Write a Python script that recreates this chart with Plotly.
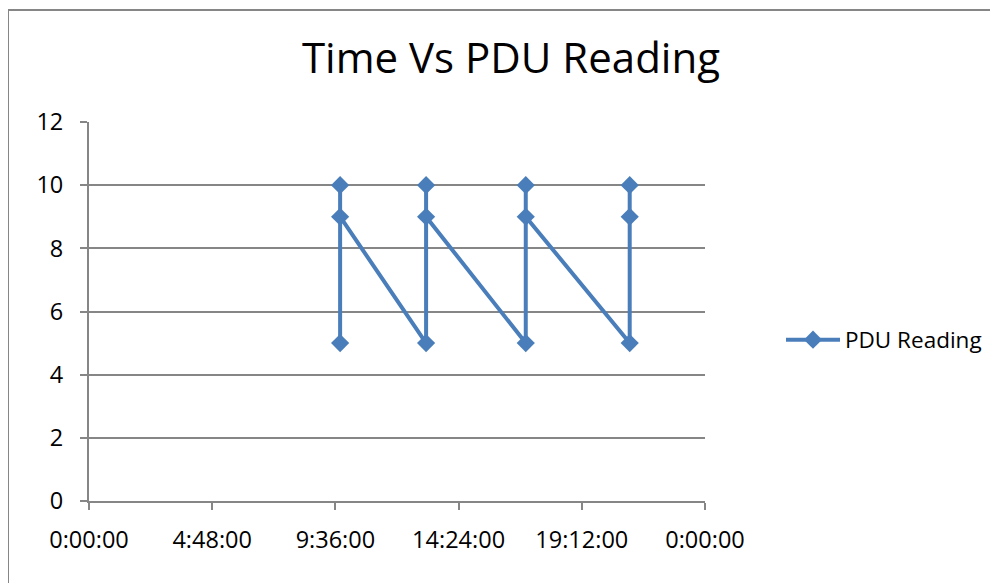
import plotly.graph_objects as go

# Data
times = [
    "2000-01-01 09:47:00", "2000-01-01 09:47:00", "2000-01-01 09:47:00",
    "2000-01-01 13:08:00", "2000-01-01 13:08:00", "2000-01-01 13:08:00",
    "2000-01-01 17:01:00", "2000-01-01 17:01:00", "2000-01-01 17:01:00",
    "2000-01-01 21:04:00", "2000-01-01 21:04:00", "2000-01-01 21:04:00",
]
readings = [5, 10, 9, 5, 10, 9, 5, 10, 9, 5, 10, 9]
series_name = "PDU Reading"
title_text = "Time Vs PDU Reading"

FONT = "Open Sans"
GRID = "#868686"
BLUE = "#4A7EBB"

OFF = 8  # page body margin
W, H = 998, 583
# target plot area in screenshot pixels
X0, X1, Y0, Y1 = 89, 705, 122, 501
L, T = X0 - OFF, Y0 - OFF
R = (W + OFF) - X1
B = (H + OFF) - Y1
pw, ph = X1 - X0, Y1 - Y0

def px_x(x):
    return (x - X0) / pw

def px_y(y):
    return (Y1 - y) / ph

fig = go.Figure()
fig.add_trace(go.Scatter(
    x=times, y=readings, name=series_name, mode="lines+markers",
    line=dict(color=BLUE, width=4),
    marker=dict(symbol="diamond", size=14, color=BLUE),
    showlegend=True,
))

fig.update_layout(
    width=W, height=H,
    margin=dict(l=L, r=R, t=T, b=B),
    paper_bgcolor="white", plot_bgcolor="white",
    font=dict(family=FONT, size=23, color="black"),
    title=dict(text=title_text, x=(511 - OFF) / W, xanchor="center",
               y=1 - (58 - OFF) / H, yanchor="middle", yref="container",
               font=dict(family=FONT, size=42, color="black")),
    xaxis=dict(
        type="date",
        range=["2000-01-01 00:00:00", "2000-01-02 00:00:00"],
        tickmode="linear", tick0="2000-01-01 00:00:00", dtick=17280000,
        tickformat="%-H:%M:%S",
        showgrid=False, zeroline=False,
        showline=True, linecolor=GRID, linewidth=2,
        ticks="outside", ticklen=7, tickcolor=GRID, tickwidth=2,
        ticklabelstandoff=10,
        tickfont=dict(family=FONT, size=23.5, color="black"),
    ),
    yaxis=dict(
        range=[0, 12], tickmode="linear", tick0=0, dtick=2,
        showgrid=True, gridcolor=GRID, gridwidth=1.5, zeroline=False,
        showline=True, linecolor=GRID, linewidth=2,
        ticks="outside", ticklen=7, tickcolor=GRID, tickwidth=2,
        ticklabelstandoff=12,
        tickfont=dict(family=FONT, size=23.5, color="black"),
    ),
    legend=dict(x=px_x(781), y=px_y(340), xanchor="left", yanchor="middle",
                itemwidth=54,
                bgcolor="rgba(0,0,0,0)", font=dict(family=FONT, size=22.5, color="black")),
    shapes=[dict(
        type="path", xref="paper", yref="paper",
        path=f"M {px_x(8)},{px_y(700)} L {px_x(8)},{px_y(10)} L {px_x(1200)},{px_y(10)}",
        line=dict(color=GRID, width=2),
    )],
)

fig.write_html("out.html")
